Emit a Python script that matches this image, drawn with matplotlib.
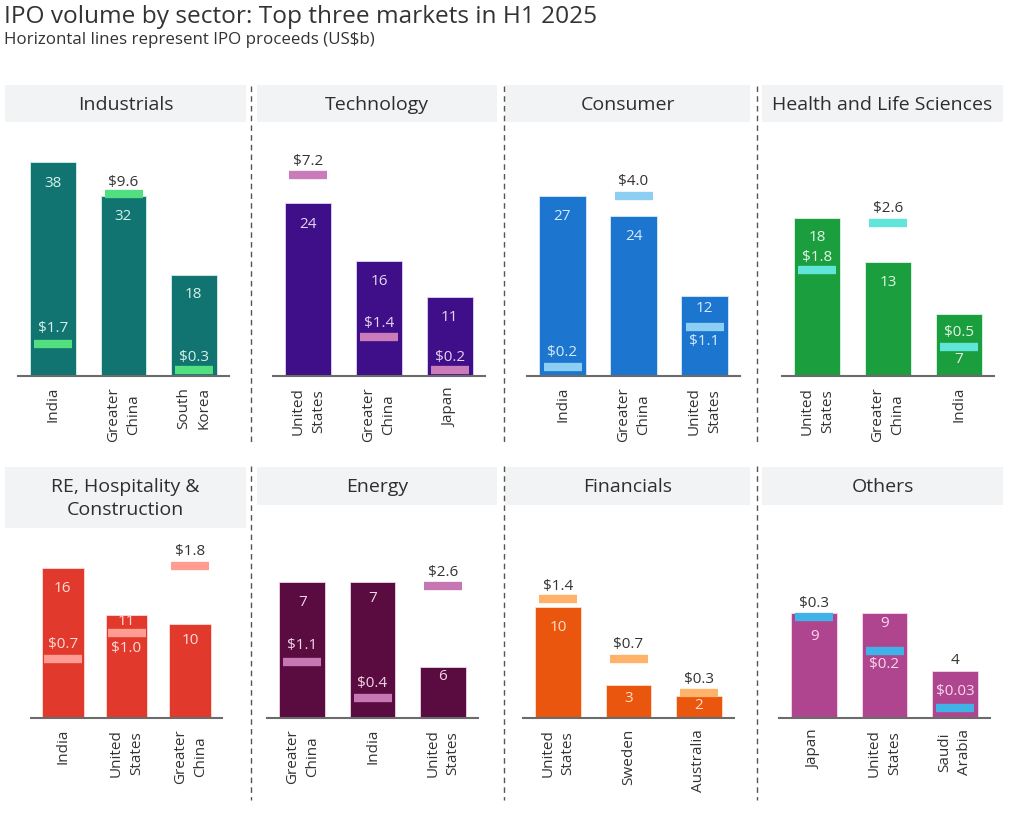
import matplotlib
matplotlib.use('Agg')
import matplotlib.pyplot as plt
from matplotlib.patches import Rectangle
from matplotlib.lines import Line2D

plt.rcParams['font.family'] = ['Open Sans', 'DejaVu Sans']

# ---------------- data ----------------
sectors = ["Industrials", "Technology", "Consumer", "Health and Life Sciences",
           "RE, Hospitality &\nConstruction", "Energy", "Financials", "Others"]
markets = [
    ["India", "Greater\nChina", "South\nKorea"],
    ["United\nStates", "Greater\nChina", "Japan"],
    ["India", "Greater\nChina", "United\nStates"],
    ["United\nStates", "Greater\nChina", "India"],
    ["India", "United\nStates", "Greater\nChina"],
    ["Greater\nChina", "India", "United\nStates"],
    ["United\nStates", "Sweden", "Australia"],
    ["Japan", "United\nStates", "Saudi\nArabia"],
]
ipo_counts = [
    [38, 32, 18],
    [24, 16, 11],
    [27, 24, 12],
    [18, 13, 7],
    [16, 11, 10],
    [7, 7, 6],
    [10, 3, 2],
    [9, 9, 4],
]
ipo_proceeds = [
    [1.7, 9.6, 0.3],
    [7.2, 1.4, 0.2],
    [0.2, 4.0, 1.1],
    [1.8, 2.6, 0.5],
    [0.7, 1.0, 1.8],
    [1.1, 0.4, 2.6],
    [1.4, 0.7, 0.3],
    [0.3, 0.2, 0.03],
]

# ---------------- styling / layout ----------------
bar_colors = ["#117470", "#3e0f88", "#1c76cf", "#1b9e3e",
              "#e1392c", "#5a0b40", "#ea560e", "#b0458f"]
line_colors = ["#52df7f", "#c97cb9", "#8ccff2", "#60e6d9",
               "#ff9d92", "#c576b3", "#ffb36a", "#3fb3e8"]
light_text = ["#d4f1ec", "#e4d4f2", "#d6ebfa", "#e2f6e6",
              "#ffdcd6", "#f0d5e8", "#ffe1c8", "#f8d8ee"]
dark_text = "#333333"

# axes boxes in pixels: (left, right, top, bottom)
boxes = [
    (18, 229, 130, 376), (273, 485, 130, 376), (527, 740, 130, 376), (782, 994, 130, 376),
    (31, 222, 530, 718), (267, 478, 530, 718), (523, 734, 530, 718), (779, 990, 530, 718),
]
count_lims = [(0, 43.7), (0, 34.2), (0, 36.9), (0, 28.0),
              (0, 20.0), (5.4, 7.61), (0, 16.9), (0, 16.1)]
proceeds_tops = [13.0, 8.8, 5.47, 4.17, 2.22, 3.69, 2.22, 0.558]
# header boxes (left, right, top, bottom)
headers = [
    (5, 246, 85, 122), (257, 497, 85, 122), (505, 750, 85, 122), (762, 1003, 85, 122),
    (5, 246, 467, 528), (257, 497, 467, 505), (505, 750, 467, 505), (762, 1003, 467, 505),
]
# label offsets in pixels (count label relative to bar top, proceeds relative to line)
count_offsets = [
    [-21, -21, -20], [-21, -21, -21], [-21, -21, -13], [-20, -21, -45],
    [-21, -7, -16], [-21, -17, -10], [-21, -14, -10], [-24, -11, 11],
]
proceeds_offsets = [
    [15, 12, 13], [13, 13, 13], [15, 15, -15], [12, 14, 14],
    [14, -15, 14], [16, 14, 13], [13, 14, 13], [13, -14, 16],
]

W, H = 1024, 813
fig = plt.figure(figsize=(W / 100, H / 100), dpi=100)
fig.patch.set_facecolor("white")

def fx(x):
    return x / W

def fy(y):
    return 1 - y / H

# title
fig.text(fx(4), fy(17), "IPO volume by sector: Top three markets in H1 2025",
         fontsize=17.6, color="#333333", ha="left", va="center")
fig.text(fx(4), fy(40), "Horizontal lines represent IPO proceeds (US$b)",
         fontsize=12.2, color="#333333", ha="left", va="center")

# header boxes
for i, (l, r, t, b) in enumerate(headers):
    fig.patches.append(Rectangle((fx(l), fy(b)), (r - l) / W, (b - t) / H,
                                 transform=fig.transFigure, facecolor="#f2f3f5",
                                 edgecolor="none", zorder=0))
    fig.text(fx((l + r) / 2), fy((t + b) / 2 + 1), sectors[i], fontsize=14,
             color="#2e2e2e", ha="center", va="center", multialignment="center",
             linespacing=1.3)

# dashed separators
for x in (251, 504, 757):
    for (y0, y1) in ((86, 445), (466, 800)):
        fig.lines.append(Line2D([fx(x), fx(x)], [fy(y0), fy(y1)], transform=fig.transFigure,
                                color="#555555", lw=1, linestyle=(0, (4, 3))))

for i in range(8):
    l, r, t, b = boxes[i]
    ax = fig.add_axes([fx(l), fy(b), (r - l) / W, (b - t) / H])
    ax.set_facecolor("none")
    x = list(range(3))
    ax.bar(x, ipo_counts[i], width=0.65, color=bar_colors[i],
           edgecolor=light_text[i], linewidth=0.6, zorder=2)
    ax.set_xlim(-0.5, 2.5)
    ax.set_ylim(*count_lims[i])
    for s in ("top", "left", "right"):
        ax.spines[s].set_visible(False)
    ax.spines["bottom"].set_color("#6b6b6b")
    ax.spines["bottom"].set_linewidth(1.5)
    ax.spines["bottom"].set_zorder(5)
    ax.set_yticks([])
    ax.set_xticks(x)
    ax.set_xticklabels(markets[i], rotation=90, rotation_mode="anchor",
                       ha="right", va="center",
                       fontsize=11, color="#333333", linespacing=1.45)
    for lbl in ax.get_xticklabels():
        lbl.set_multialignment("center")
    ax.tick_params(axis="x", length=0, pad=8)

    ax2 = ax.twinx()
    ax2.set_ylim(0, proceeds_tops[i])
    ax2.set_axis_off()
    spacing_px = (r - l) / 3.0
    hw = 19 / spacing_px
    ax2.hlines(ipo_proceeds[i], [xi - hw for xi in x], [xi + hw for xi in x],
               colors=line_colors[i], linewidth=6, zorder=3)

    for j in x:
        c = ipo_counts[i][j]
        p = ipo_proceeds[i][j]
        bar_top_px = ax.transData.transform((j, max(c, count_lims[i][0])))[1]
        xc = ax.transData.transform((j, 0))[0] / W
        # count label
        cy = bar_top_px + count_offsets[i][j]
        col = light_text[i] if cy < bar_top_px else dark_text
        fig.text(xc, cy / H, f"{c}", fontsize=11, color=col,
                 ha="center", va="center", zorder=10)
        # proceeds label
        line_px = ax2.transData.transform((j, p))[1]
        py = line_px + proceeds_offsets[i][j]
        col = light_text[i] if py < bar_top_px - 2 else dark_text
        lab = f"${p:.2f}" if p < 0.1 else f"${p:.1f}"
        fig.text(xc, py / H, lab, fontsize=11, color=col,
                 ha="center", va="center", zorder=10)

fig.savefig("out.png", dpi=100)
